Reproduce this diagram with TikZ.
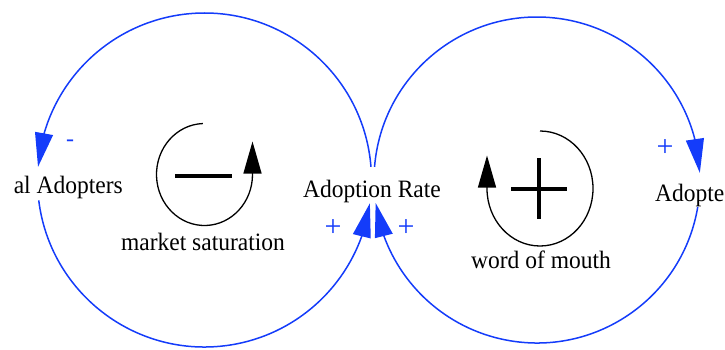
\documentclass[tikz,border=0pt]{standalone}
\usepackage{fontspec}
\setmainfont{Liberation Serif}
\newfontfamily\varfont{Liberation Serif}[FakeStretch=0.94]
\usetikzlibrary{arrows.meta,bending}
\definecolor{linkblue}{RGB}{20,60,250}
\begin{document}
\begin{tikzpicture}[x=1pt,y=1pt,
  var/.style={inner sep=0pt, font=\varfont\fontsize{25}{30}\selectfont},
  sgn/.style={inner sep=0pt, text=linkblue, font=\rmfamily\fontsize{30}{32}\selectfont},
  link/.style={draw=linkblue, line width=1.5pt, -{Triangle[length=34pt,width=18pt]}},
  loopsym/.style={draw=black, line width=1.3pt, -{Triangle[length=32pt,width=18pt]}},
  bar/.style={draw=black, line width=3.2pt}
  ]
\useasboundingbox (0,0) rectangle (725,349);
\coordinate (c1) at (204.5,169);
\coordinate (c2) at (537,169);
% variables
\node[var, anchor=base east] (pa) at (123,156) {al Adopters};
\node[var, anchor=base] (ar) at (372,152) {Adoption Rate};
\node[var, anchor=base west] (ad) at (655,148) {Adopte};
% links
\draw[link] ([shift={(4.5:167pt)}]c1) arc[start angle=4.5,end angle=175.5,radius=167pt];
\draw[link] ([shift={(187:167pt)}]c1) arc[start angle=187,end angle=352,radius=167pt];
\draw[link] ([shift={(175.4:163pt)}]c2) arc[start angle=175.4,end angle=2.5,radius=163pt];
\draw[link] ([shift={(-9.5:163pt)}]c2) arc[start angle=-9.5,end angle=-171.9,radius=163pt];
% polarity signs
\node[sgn, font=\rmfamily\fontsize{24}{26}\selectfont] (s1) at (70,206) {-};
\node[sgn] (s2) at (333,121) {+};
\node[sgn] (s3) at (406,121) {+};
\node[sgn] (s4) at (665,201) {+};
% loop symbols
\coordinate (n1) at (204.5,174.5);
\draw[loopsym] ([shift={(92:48pt and 51pt)}]n1) arc[start angle=92,end angle=360,x radius=48pt,y radius=51pt] -- ++(0,33);
\draw[bar] (175,173) -- (232,173);
\node[var, anchor=base] (ms) at (203,99) {market saturation};
\coordinate (n2) at (540,160.5);
\draw[loopsym] ([shift={(90:53pt and 57.5pt)}]n2) arc[start angle=90,end angle=-180,x radius=53pt,y radius=57.5pt] -- ++(0,33);
\draw[bar] (511,160) -- (567,160);
\draw[bar] (539,191) -- (539,130);
\node[var, anchor=base] (wm) at (541,81) {word of mouth};
\end{tikzpicture}
\end{document}
